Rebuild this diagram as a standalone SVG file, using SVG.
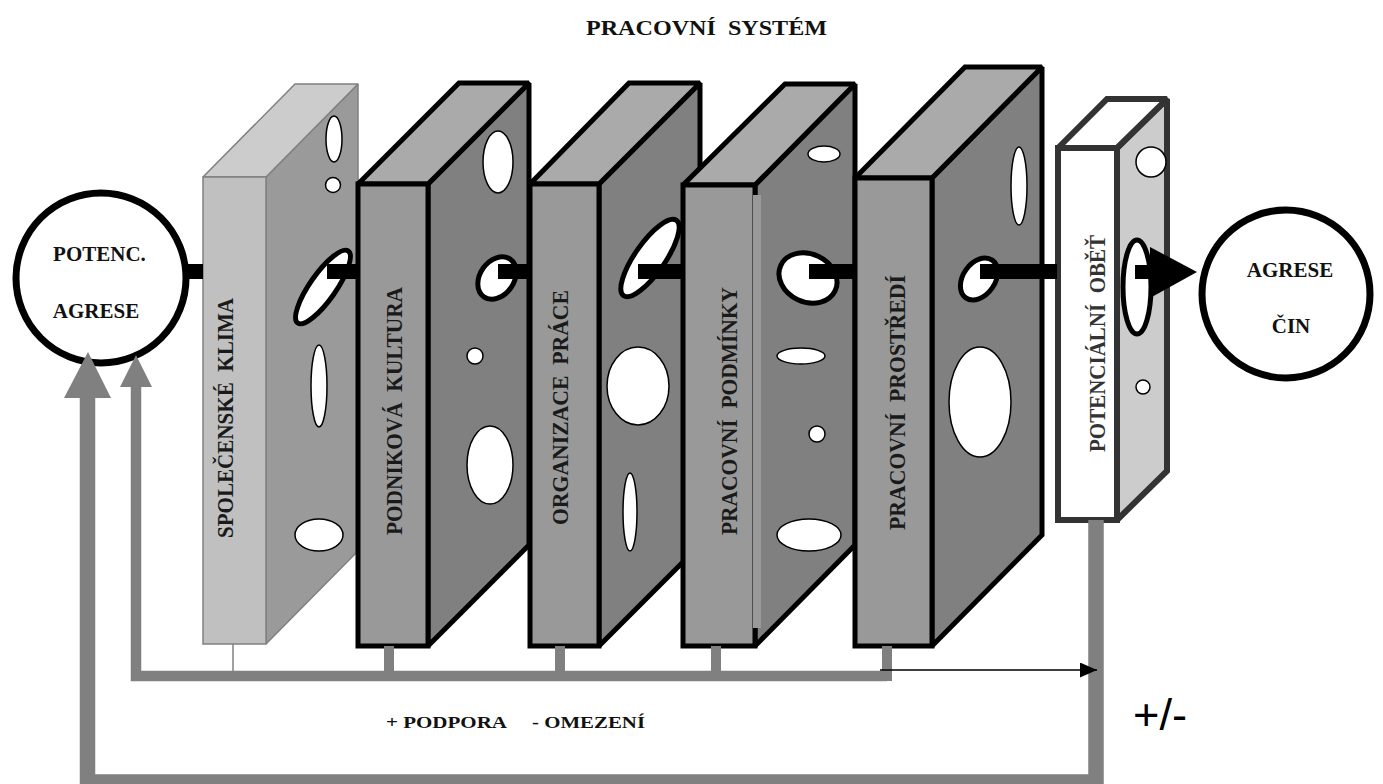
<svg xmlns="http://www.w3.org/2000/svg" width="1383" height="784" viewBox="0 0 1383 784">
<style>
.t{font-family:"Liberation Serif","Times New Roman",serif;font-weight:bold;fill:#111}
.v{font-family:"Liberation Serif","Times New Roman",serif;font-weight:bold;font-size:24px;fill:#1a1a1a}
.s1{stroke:#808080;stroke-width:1.5;stroke-linejoin:miter;stroke-miterlimit:2}
.sk{stroke:#000;stroke-width:5;stroke-linejoin:miter;stroke-miterlimit:2}
.s6{stroke:#333;stroke-width:6;stroke-linejoin:miter;stroke-miterlimit:2}
.hole{fill:#fff;stroke:#000;stroke-width:1.5}
.hk{fill:#fff;stroke:#000;stroke-width:5}
.fr{fill:#999}
.tp{fill:#aaa}
.sd{fill:#808080}
.gr{fill:#808080}
.gl{fill:none;stroke:#808080;stroke-linejoin:miter}
.bar{fill:#000}
</style>
<defs>
<marker id="ah" markerUnits="userSpaceOnUse" markerWidth="18" markerHeight="16" refX="17" refY="7.5" orient="auto">
<path d="M0,0 L17,7.5 L0,15 z" fill="#000"/>
</marker>
</defs>
<rect width="1383" height="784" fill="#fff"/>

<text class="t" x="586" y="35" font-size="22" textLength="241" lengthAdjust="spacingAndGlyphs" xml:space="preserve">PRACOVNÍ  SYSTÉM</text>

<g id="potenc-agrese">
<circle cx="101" cy="278" r="85" fill="#fff" stroke="#000" stroke-width="7"/>
<text class="t" x="99.5" y="261" font-size="21" text-anchor="middle">POTENC.</text>
<text class="t" x="96" y="318" font-size="21" text-anchor="middle">AGRESE</text>
</g>

<g id="spolecenske-klima">
<polygon class="s1" fill="#9a9a9a" points="266,177 358,84 358,551 266,644"/>
<polygon class="s1" fill="#cccccc" points="203,177 295,84 358,84 266,177"/>
<rect class="s1" fill="#c0c0c0" x="203" y="177" width="63" height="467"/>
<ellipse class="hole" cx="334" cy="139" rx="8" ry="23"/>
<circle class="hole" cx="333" cy="185" r="7.5"/>
<ellipse class="hk" cx="323" cy="287" rx="44" ry="13" transform="rotate(-55 323 287)"/>
<ellipse class="hole" cx="319" cy="386" rx="8" ry="41"/>
<ellipse class="hole" cx="319" cy="535" rx="24" ry="16"/>
<text class="v" transform="translate(233 538) rotate(-90)" textLength="240" lengthAdjust="spacingAndGlyphs" xml:space="preserve">SPOLEČENSKÉ  KLIMA</text>
</g>

<g id="podnikova-kultura">
<polygon class="sk sd" points="428,184 529,83 529,545 428,646"/>
<polygon class="sk tp" points="358,184 459,83 529,83 428,184"/>
<rect class="sk fr" x="358" y="184" width="70" height="462"/>
<ellipse class="hole" cx="498" cy="162" rx="15" ry="31"/>
<ellipse class="hk" cx="497" cy="278" rx="17" ry="23" transform="rotate(35 497 278)"/>
<circle class="hole" cx="475" cy="356" r="8"/>
<ellipse class="hole" cx="490" cy="465" rx="23" ry="39"/>
<text class="v" transform="translate(402 535) rotate(-90)" textLength="248" lengthAdjust="spacingAndGlyphs" xml:space="preserve">PODNIKOVÁ  KULTURA</text>
</g>

<g id="organizace-prace">
<polygon class="sk sd" points="599,184 700,83 700,545 599,646"/>
<polygon class="sk tp" points="530,184 629,83 700,83 599,184"/>
<rect class="sk fr" x="530" y="184" width="69" height="462"/>
<ellipse class="hk" cx="650" cy="258" rx="46" ry="15" transform="rotate(-55 650 258)"/>
<ellipse class="hole" cx="638" cy="386" rx="31" ry="39"/>
<ellipse class="hole" cx="630" cy="512" rx="7" ry="39"/>
<text class="v" transform="translate(568 525) rotate(-90)" textLength="235" lengthAdjust="spacingAndGlyphs" xml:space="preserve">ORGANIZACE  PRÁCE</text>
</g>

<g id="pracovni-podminky">
<polygon class="sk sd" points="755,185 855,84 855,545 755,646"/>
<polygon class="sk tp" points="683,185 785,84 855,84 755,185"/>
<rect class="sk fr" x="683" y="185" width="72" height="461"/>
<rect class="fr" x="753" y="195" width="8" height="433"/>
<ellipse class="hole" cx="824" cy="154" rx="16" ry="8"/>
<ellipse class="hk" cx="808" cy="278" rx="30" ry="24" transform="rotate(25 808 278)"/>
<ellipse class="hole" cx="801" cy="356" rx="24" ry="8"/>
<circle class="hole" cx="817" cy="434" r="8"/>
<ellipse class="hole" cx="809" cy="535" rx="32" ry="16"/>
<text class="v" transform="translate(737 535) rotate(-90)" textLength="248" lengthAdjust="spacingAndGlyphs" xml:space="preserve">PRACOVNÍ  PODMÍNKY</text>
</g>

<g id="pracovni-prostredi">
<polygon class="sk sd" points="932,178 1042,67 1042,535 932,646"/>
<polygon class="sk tp" points="855,178 965,67 1042,67 932,178"/>
<rect class="sk fr" x="855" y="178" width="77" height="468"/>
<ellipse class="hole" cx="1019" cy="186" rx="8" ry="39"/>
<ellipse class="hk" cx="979" cy="279" rx="16" ry="23" transform="rotate(35 979 279)"/>
<ellipse class="hole" cx="980" cy="402" rx="31" ry="55"/>
<text class="v" transform="translate(905 530) rotate(-90)" textLength="255" lengthAdjust="spacingAndGlyphs" xml:space="preserve">PRACOVNÍ  PROSTŘEDÍ</text>
</g>

<g id="potencialni-obet">
<polygon class="s6" fill="#cccccc" points="1117,148 1167,99 1167,471 1117,520"/>
<polygon class="s6" fill="#fff" points="1058,148 1107,99 1167,99 1117,148"/>
<rect class="s6" fill="#fff" x="1058" y="148" width="59" height="372"/>
<circle class="hole" cx="1151" cy="162" r="15"/>
<ellipse class="hk" cx="1137" cy="287" rx="14" ry="47"/>
<circle class="hole" cx="1143" cy="387" r="7"/>
<text class="v" style="fill:#333" transform="translate(1105 452) rotate(-90)" textLength="217" lengthAdjust="spacingAndGlyphs" xml:space="preserve">POTENCIÁLNÍ  OBĚŤ</text>
</g>

<g id="agrese-cin">
<circle cx="1286" cy="294" r="84" fill="#fff" stroke="#000" stroke-width="7"/>
<text class="t" x="1290" y="277" font-size="21" text-anchor="middle">AGRESE</text>
<text class="t" x="1291" y="333" font-size="21" text-anchor="middle">ČIN</text>
</g>

<g id="connectors">
<rect class="bar" x="186" y="264" width="17" height="15"/>
<rect class="bar" x="327" y="264" width="31" height="15"/>
<rect class="bar" x="498" y="264" width="32" height="15"/>
<rect class="bar" x="638" y="264" width="45" height="15"/>
<rect class="bar" x="809" y="264" width="46" height="15"/>
<rect class="bar" x="980" y="264" width="77" height="15"/>
<rect class="bar" x="1135" y="265" width="17" height="14"/>
<polygon class="bar" points="1150,247 1197,272 1150,298"/>

<line x1="233" y1="644" x2="233" y2="672" stroke="#808080" stroke-width="1.5"/>
<rect class="gr" x="384" y="646" width="10" height="26"/>
<rect class="gr" x="555" y="646" width="10" height="26"/>
<rect class="gr" x="711" y="646" width="10" height="26"/>
<rect class="gr" x="882" y="646" width="10" height="35"/>
<polyline class="gl" stroke-width="10.5" points="887,676 136,676 136,385"/>
<polygon class="gr" points="136,355 152,387 120,387"/>

<polyline class="gl" stroke-width="15.5" points="1096,520 1096,782 87.5,782 87.5,396"/>
<polygon class="gr" points="88,352 111,398 64,398"/>

<line x1="880" y1="670" x2="1097" y2="670" stroke="#000" stroke-width="1.5" marker-end="url(#ah)"/>
</g>

<text class="t" x="386" y="728" font-size="17" textLength="121" lengthAdjust="spacingAndGlyphs">+ PODPORA</text>
<text class="t" x="532" y="728" font-size="17" textLength="113" lengthAdjust="spacingAndGlyphs">- OMEZENÍ</text>
<text x="1133" y="730" font-family="'Liberation Sans',Arial,sans-serif" font-size="44" fill="#000" textLength="54" lengthAdjust="spacingAndGlyphs">+/-</text>
</svg>
